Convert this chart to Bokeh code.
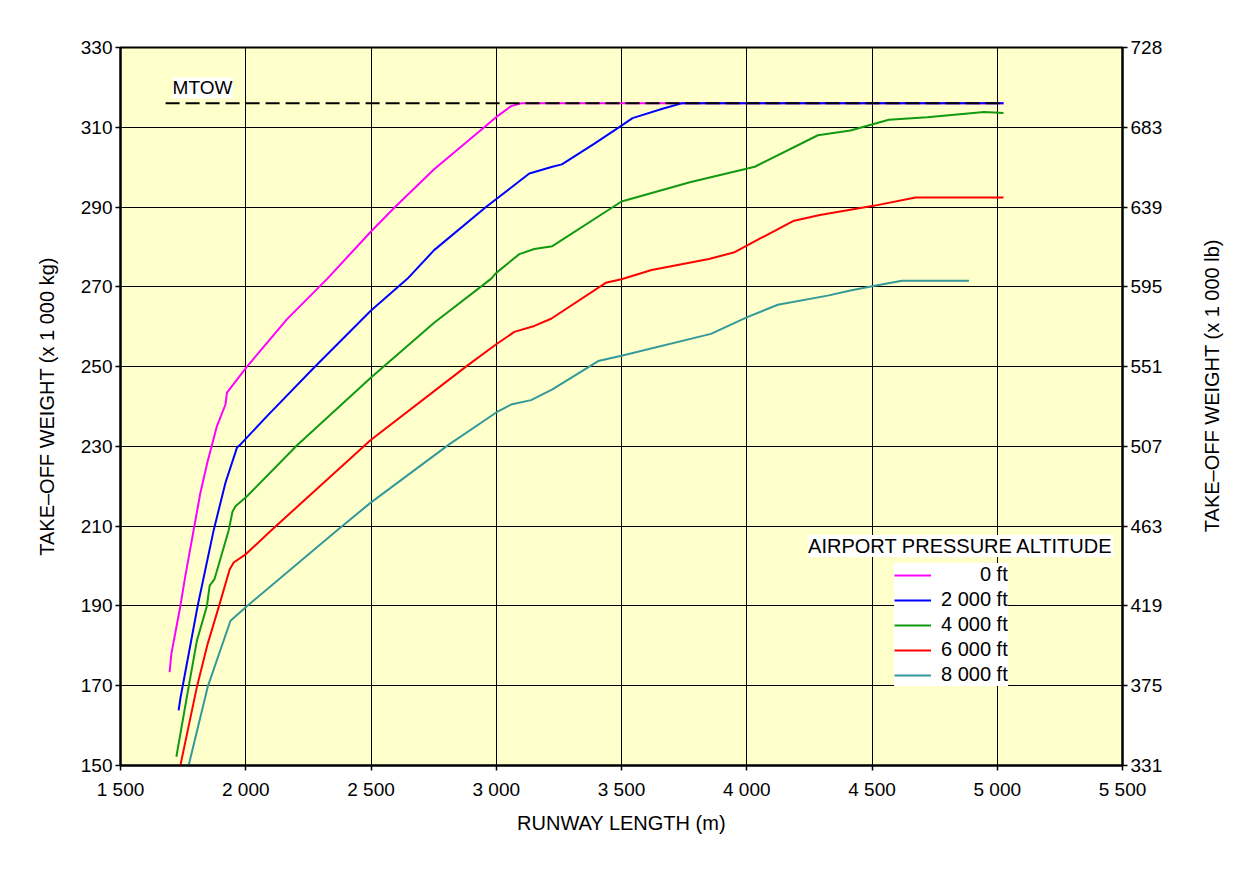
import math
from bokeh.plotting import figure
from bokeh.models import (Range1d, LinearAxis, FixedTicker, Legend, LegendItem, Label)
from bokeh.embed import file_html
from bokeh.resources import INLINE

# ---------------- data ----------------
x_ticks = [1500, 2000, 2500, 3000, 3500, 4000, 4500, 5000, 5500]
x_tick_labels = ["1 500", "2 000", "2 500", "3 000", "3 500", "4 000", "4 500", "5 000", "5 500"]
kg_ticks = [150, 170, 190, 210, 230, 250, 270, 290, 310, 330]
lb_tick_labels = ["331", "375", "419", "463", "507", "551", "595", "639", "683", "728"]

mtow = 316
mtow_x = [1680, 5025]

alt_labels = ["0 ft", "2 000 ft", "4 000 ft", "6 000 ft", "8 000 ft"]

x_0ft = [1696, 1703, 1739, 1759, 1792, 1819, 1848, 1885, 1919, 1925, 2005, 2165, 2325,
         2499, 2599, 2752, 2952, 3005, 3059, 3099, 3165, 5025]
y_0ft = [173.4, 178.0, 190.0, 197.6, 209.0, 218.4, 226.3, 235.1, 240.5, 243.5, 250.0,
         261.9, 272.0, 283.8, 290.2, 299.5, 310.0, 312.8, 315.3, 316.0, 316.0, 316.0]

x_2000ft = [1732, 1739, 1808, 1872, 1919, 1965, 1979, 2085, 2272, 2499, 2645, 2752, 2959,
            3132, 3224, 3262, 3392, 3500, 3544, 3667, 3740, 5025]
y_2000ft = [163.8, 166.8, 190.0, 209.0, 220.9, 229.7, 230.5, 237.6, 249.7, 264.0, 272.0,
            279.2, 290.0, 298.4, 300.1, 300.7, 305.9, 310.4, 312.3, 314.7, 316.0, 316.0]

x_4000ft = [1723, 1772, 1805, 1845, 1856, 1875, 1932, 1947, 1959, 2005, 2205, 2499, 2752,
            2979, 3000, 3092, 3152, 3224, 3500, 3773, 4032, 4284, 4414, 4567, 4720, 4948, 5025]
y_4000ft = [152.2, 169.7, 181.3, 190.0, 195.1, 196.7, 209.0, 213.6, 215.0, 217.5, 230.3,
            247.2, 261.0, 272.0, 273.5, 278.2, 279.5, 280.2, 291.4, 296.2, 300.1, 308.0,
            309.2, 311.9, 312.5, 313.8, 313.6]

x_6000ft = [1739, 1805, 1848, 1892, 1936, 1952, 2001, 2099, 2499, 2879, 3000, 3072, 3152,
            3219, 3437, 3500, 3620, 3849, 3948, 4185, 4292, 4506, 4674, 5025]
y_6000ft = [150.0, 169.7, 180.5, 189.7, 199.2, 200.9, 203.0, 208.8, 231.6, 250.0, 255.6,
            258.7, 260.2, 262.0, 271.0, 271.9, 274.2, 277.0, 278.6, 286.5, 288.0, 290.3,
            292.4, 292.4]

x_8000ft = [1772, 1848, 1939, 2000, 2365, 2499, 2812, 3000, 3059, 3139, 3224, 3407, 3500,
            3857, 4002, 4124, 4323, 4414, 4506, 4620, 4887]
y_8000ft = [150.0, 169.7, 186.3, 189.7, 209.0, 215.9, 230.5, 238.5, 240.5, 241.6, 244.3,
            251.4, 252.7, 258.2, 262.4, 265.5, 267.8, 269.1, 270.2, 271.5, 271.5]

series_x = [x_0ft, x_2000ft, x_4000ft, x_6000ft, x_8000ft]
series_y = [y_0ft, y_2000ft, y_4000ft, y_6000ft, y_8000ft]
colors = ["#FF00FF", "#0000FF", "#119911", "#FF0000", "#339999"]

FONT = "Liberation Sans"
FS = "19px"
FS_T = "20px"

# ---------------- figure ----------------
p = figure(width=1243, height=861, output_backend="svg", toolbar_location=None,
           x_range=Range1d(1500, 5500), y_range=Range1d(150, 330),
           min_border_left=120, min_border_right=121, min_border_top=47, min_border_bottom=96)
p.background_fill_color = "#FFFFCC"
p.border_fill_color = "white"
p.outline_line_color = "black"
p.outline_line_width = 2

# axes
p.xaxis.ticker = FixedTicker(ticks=x_ticks)
p.xaxis.major_label_overrides = dict(zip(x_ticks, x_tick_labels))
p.xaxis.axis_label = "RUNWAY LENGTH (m)"
p.xaxis.axis_label_standoff = 9
p.xaxis.major_label_standoff = 8

p.yaxis.ticker = FixedTicker(ticks=kg_ticks)
p.yaxis.axis_label = "TAKE\u2013OFF WEIGHT (x 1 000 kg)"
p.yaxis.axis_label_standoff = 20
p.yaxis.major_label_standoff = 3

ry = LinearAxis(ticker=FixedTicker(ticks=kg_ticks),
                major_label_overrides=dict(zip(kg_ticks, lb_tick_labels)),
                axis_label="\u00a0" * 42 + "TAKE\u2013OFF WEIGHT (x 1 000 lb)")
ry.axis_label_orientation = math.pi / 2   # read bottom-to-top like the left title
ry.axis_label_align = "start"
ry.axis_label_standoff = 47
ry.major_label_standoff = 3
p.add_layout(ry, "right")

for ax in [p.xaxis[0], p.yaxis[0], ry]:
    ax.axis_line_color = "black"
    ax.axis_line_width = 2
    ax.major_tick_line_color = "black"
    ax.major_tick_line_width = 1.5
    ax.major_tick_out = 5
    ax.major_tick_in = 0
    ax.minor_tick_line_color = None
    ax.major_label_text_font = FONT
    ax.major_label_text_font_size = FS
    ax.major_label_text_color = "black"
    ax.axis_label_text_font = FONT
    ax.axis_label_text_font_size = FS_T
    ax.axis_label_text_font_style = "normal"
    ax.axis_label_text_color = "black"

p.xgrid.ticker = FixedTicker(ticks=x_ticks)
p.ygrid.ticker = FixedTicker(ticks=kg_ticks)
for g in [p.xgrid[0], p.ygrid[0]]:
    g.grid_line_color = "black"
    g.grid_line_width = 1
    g.grid_line_alpha = 1

# curves
renderers = []
for xs, ys, c in zip(series_x, series_y, colors):
    r = p.line(xs, ys, line_color=c, line_width=2)
    renderers.append(r)

# MTOW line
p.line(mtow_x, [mtow, mtow], line_color="black", line_width=2, line_dash="14 6")
p.add_layout(Label(x=mtow_x[0] + 28, y=mtow + 1.3, text="MTOW", text_font=FONT,
                   text_font_size=FS, text_color="black", text_baseline="bottom",
                   background_fill_color="white", background_fill_alpha=1))

# legend title
p.add_layout(Label(x=4245, y=202.3, text="AIRPORT PRESSURE ALTITUDE", text_font=FONT,
                   text_font_size=FS_T, text_color="black", text_baseline="bottom",
                   background_fill_color="white", background_fill_alpha=1))

pads = ["\u00a0" * 7, "", "", "", ""]
items = [LegendItem(label=pad + lab, renderers=[r]) for pad, lab, r in zip(pads, alt_labels, renderers)]
legend = Legend(items=items, location=(774, 79), orientation="vertical")
legend.label_text_font = FONT
legend.label_text_font_size = "20px"
legend.label_text_color = "black"
legend.glyph_width = 37
legend.glyph_height = 20
legend.label_height = 20
legend.label_standoff = 10
legend.spacing = 2
legend.padding = 10
legend.margin = 0
legend.border_line_color = None
legend.background_fill_color = "white"
legend.background_fill_alpha = 1
p.add_layout(legend, "center")

open("out.html", "w").write(file_html(p, INLINE))
